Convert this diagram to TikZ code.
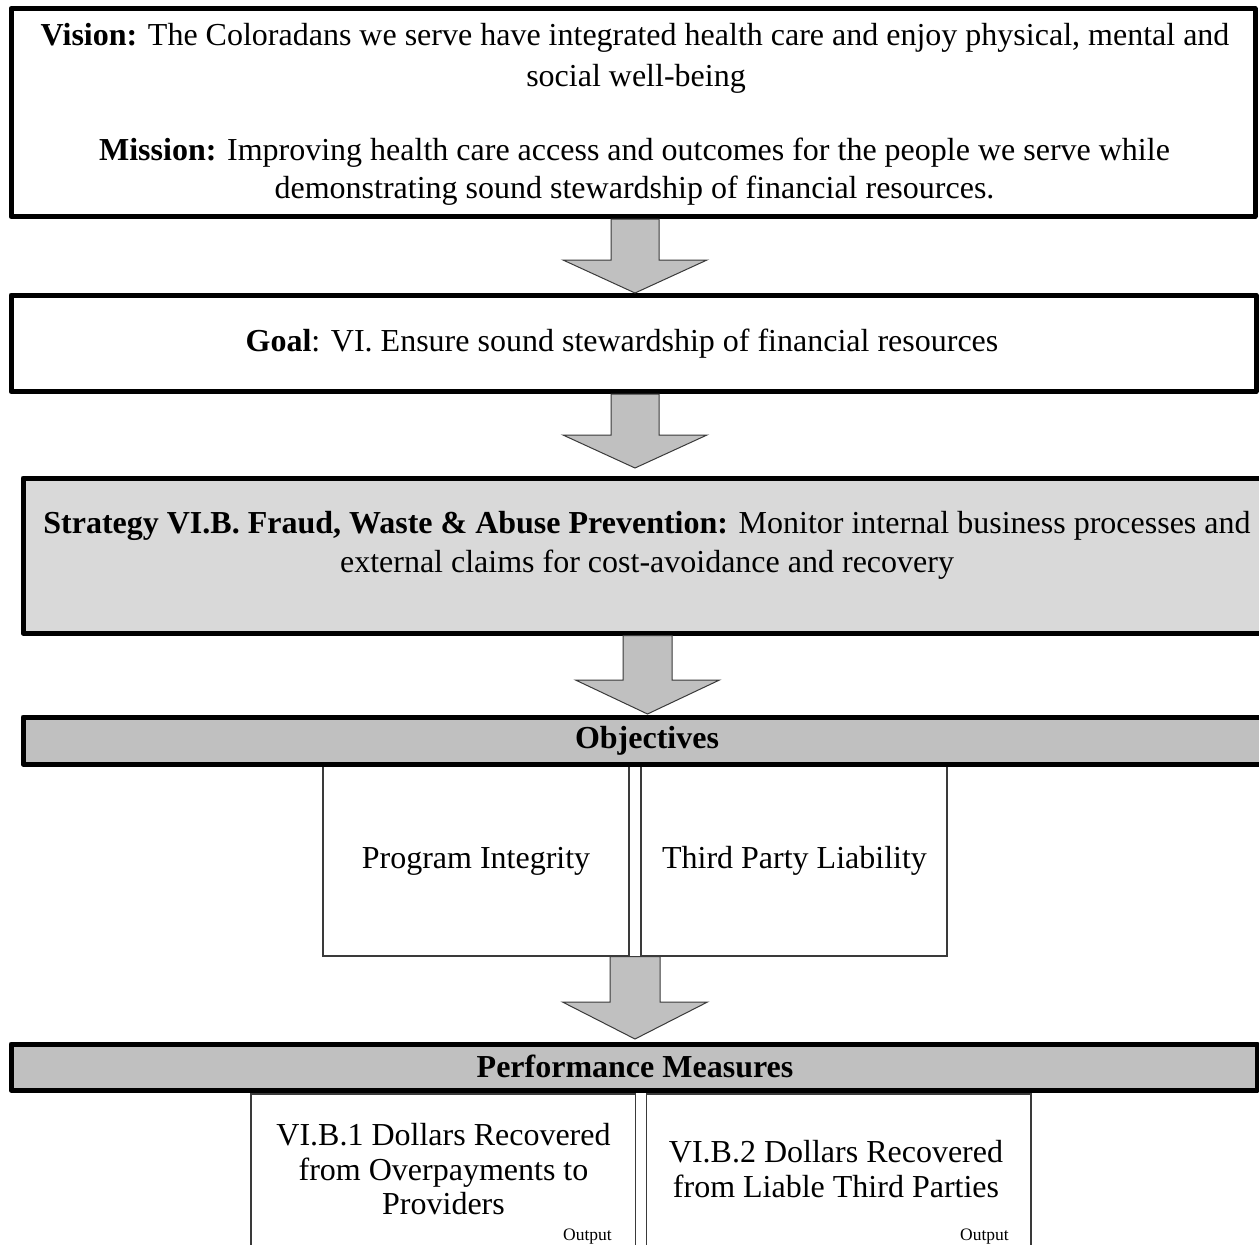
\documentclass[tikz,border=0pt]{standalone}
\usepackage{fontspec}
\setmainfont{Liberation Serif}
\usetikzlibrary{calc}
\definecolor{stratgray}{HTML}{D9D9D9}
\definecolor{bargray}{HTML}{C0C0C0}
\definecolor{edgegray}{HTML}{3A3A3A}
\begin{document}
\begin{tikzpicture}[x=1pt,y=-1pt,
  heavybox/.style={draw=black,line width=5pt,line join=round,inner sep=0pt,outer sep=0pt},
  lightbox/.style={draw=edgegray,line width=1.2pt,fill=white,inner sep=0pt,outer sep=0pt},
  blockarrow/.style={fill=bargray,draw=edgegray,line width=1pt,line join=miter},
  txt/.style={font=\fontsize{32}{36}\selectfont,anchor=base,inner sep=0pt},
  smalltxt/.style={font=\fontsize{17.5}{20}\selectfont,anchor=base east,inner sep=0pt}]
\useasboundingbox (0,0) rectangle (1259,1245);
\clip (0,0) rectangle (1259,1245);

% ---- boxes ----
\node[heavybox,fill=white,minimum width=1244pt,minimum height=208pt] (vm) at (633,112.5) {};
\node[heavybox,fill=white,minimum width=1245pt,minimum height=96.5pt] (goal) at (633.5,343.25) {};
\node[heavybox,fill=stratgray,minimum width=1252pt,minimum height=155pt] (strat) at (649,555.5) {};
\node[lightbox,minimum width=306pt,minimum height=192pt] (pi) at (476,860) {};
\node[lightbox,minimum width=306pt,minimum height=192pt] (tpl) at (794,860) {};
\node[heavybox,fill=bargray,minimum width=1252pt,minimum height=47pt] (obj) at (649,740.5) {};
\node[lightbox,minimum width=384.5pt,minimum height=166pt] (m1) at (443.25,1177) {};
\node[lightbox,minimum width=384.5pt,minimum height=166pt] (m2) at (838.75,1177) {};
\node[heavybox,fill=bargray,minimum width=1246pt,minimum height=46pt] (perf) at (634,1067) {};

% ---- block arrows between the levels ----
\coordinate (tip1) at (635,293);
\coordinate (tip2) at (635,468);
\coordinate (tip3) at (647.5,714);
\coordinate (tip4) at (635,1039);
\draw[blockarrow] let \p1=(vm.south), \p2=(tip1) in
  (\x2-24pt,\y1-2.5pt) -- (\x2-24pt,\y2+33pt) -- (\x2-72pt,\y2+33pt) -- (\x2,\y2)
  -- (\x2+72pt,\y2+33pt) -- (\x2+24pt,\y2+33pt) -- (\x2+24pt,\y1-2.5pt) -- cycle;
\draw[blockarrow] let \p1=(goal.south), \p2=(tip2) in
  (\x2-24pt,\y1-2.5pt) -- (\x2-24pt,\y2+33pt) -- (\x2-72pt,\y2+33pt) -- (\x2,\y2)
  -- (\x2+72pt,\y2+33pt) -- (\x2+24pt,\y2+33pt) -- (\x2+24pt,\y1-2.5pt) -- cycle;
\draw[blockarrow] let \p1=(strat.south), \p2=(tip3) in
  (\x2-24.5pt,\y1-2.5pt) -- (\x2-24.5pt,\y2+34pt) -- (\x2-72pt,\y2+34pt) -- (\x2,\y2)
  -- (\x2+72pt,\y2+34pt) -- (\x2+24.5pt,\y2+34pt) -- (\x2+24.5pt,\y1-2.5pt) -- cycle;
\draw[blockarrow] let \p1=(pi.south), \p2=(tip4) in
  (\x2-25pt,\y1-0.6pt) -- (\x2-25pt,\y2+37pt) -- (\x2-72.5pt,\y2+37pt) -- (\x2,\y2)
  -- (\x2+72.5pt,\y2+37pt) -- (\x2+25pt,\y2+37pt) -- (\x2+25pt,\y1-0.6pt) -- cycle;

% ---- texts ----
\node[txt] (vis1) at (635,45) {\textbf{Vision:} The Coloradans we serve have integrated health care and enjoy physical, mental and};
\node[txt] (vis2) at (636,86) {social well-being};
\node[txt] (mis1) at (634.5,160) {\textbf{Mission:} Improving health care access and outcomes for the people we serve while};
\node[txt] (mis2) at (634.5,198) {demonstrating sound stewardship of financial resources.};
\node[txt] (goaltxt) at (622,351) {\textbf{Goal}: VI. Ensure sound stewardship of financial resources};
\node[txt] (str1) at (647,533) {\textbf{Strategy VI.B. Fraud, Waste \& Abuse Prevention:} Monitor internal business processes and};
\node[txt] (str2) at (647,572) {external claims for cost-avoidance and recovery};
\node[txt] (objtxt) at (647,748) {\textbf{Objectives}};
\node[txt] (pitxt) at (476,868) {Program Integrity};
\node[txt] (tpltxt) at (794.5,868) {Third Party Liability};
\node[txt] (perftxt) at (635,1077) {\textbf{Performance Measures}};
\node[txt] (m1a) at (443.5,1145) {VI.B.1 Dollars Recovered};
\node[txt] (m1b) at (443.5,1180) {from Overpayments to};
\node[txt] (m1c) at (443.5,1214) {Providers};
\node[smalltxt] (m1out) at (612,1240) {Output};
\node[txt] (m2a) at (836,1162) {VI.B.2 Dollars Recovered};
\node[txt] (m2b) at (836,1197) {from Liable Third Parties};
\node[smalltxt] (m2out) at (1009,1240) {Output};
\end{tikzpicture}
\end{document}
